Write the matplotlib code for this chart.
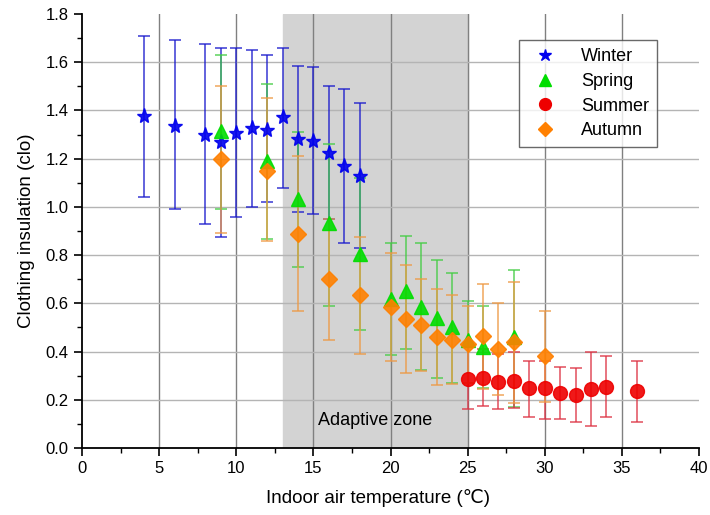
import matplotlib
matplotlib.use("Agg")
import matplotlib.pyplot as plt
from matplotlib.ticker import MultipleLocator

plt.rcParams["font.family"] = ["Liberation Sans", "DejaVu Sans"]

# Winter
winter_t = [4, 6, 8, 9, 10, 11, 12, 13, 14, 15, 16, 17, 18]
winter_clo = [1.375, 1.337, 1.30, 1.27, 1.305, 1.325, 1.32, 1.372, 1.28, 1.275, 1.223, 1.17, 1.126]
winter_lo = [1.04, 0.99, 0.93, 0.877, 0.957, 1.00, 1.02, 1.08, 0.98, 0.97, 0.95, 0.85, 0.83]
winter_hi = [1.71, 1.69, 1.676, 1.66, 1.66, 1.65, 1.63, 1.66, 1.585, 1.58, 1.50, 1.49, 1.43]

# Spring
spring_t = [9, 12, 14, 16, 18, 20, 21, 22, 23, 24, 25, 26, 28]
spring_clo = [1.315, 1.19, 1.033, 0.932, 0.805, 0.62, 0.65, 0.585, 0.54, 0.50, 0.45, 0.42, 0.46]
spring_lo = [0.99, 0.866, 0.75, 0.59, 0.49, 0.385, 0.41, 0.325, 0.29, 0.27, 0.27, 0.25, 0.17]
spring_hi = [1.63, 1.51, 1.31, 1.26, 1.12, 0.85, 0.88, 0.85, 0.78, 0.725, 0.61, 0.59, 0.74]

# Summer
summer_t = [25, 26, 27, 28, 29, 30, 31, 32, 33, 34, 36]
summer_clo = [0.285, 0.29, 0.275, 0.28, 0.25, 0.25, 0.23, 0.22, 0.245, 0.255, 0.235]
summer_lo = [0.16, 0.175, 0.16, 0.165, 0.13, 0.12, 0.12, 0.11, 0.09, 0.13, 0.11]
summer_hi = [0.42, 0.41, 0.39, 0.40, 0.36, 0.36, 0.335, 0.33, 0.40, 0.38, 0.36]

# Autumn
autumn_t = [9, 12, 14, 16, 18, 20, 21, 22, 23, 24, 25, 26, 27, 28, 30]
autumn_clo = [1.20, 1.15, 0.888, 0.70, 0.635, 0.585, 0.535, 0.51, 0.46, 0.45, 0.43, 0.465, 0.41, 0.44, 0.38]
autumn_lo = [0.89, 0.86, 0.57, 0.45, 0.39, 0.36, 0.31, 0.32, 0.26, 0.265, 0.27, 0.245, 0.22, 0.185, 0.19]
autumn_hi = [1.50, 1.45, 1.21, 0.95, 0.875, 0.81, 0.76, 0.70, 0.66, 0.635, 0.59, 0.68, 0.60, 0.69, 0.57]

series = [
    ("Winter", winter_t, winter_clo, winter_lo, winter_hi, "*", 11, "#0000ee", "#1a1acc"),
    ("Spring", spring_t, spring_clo, spring_lo, spring_hi, "^", 10, "#00dd00", "#44cc44"),
    ("Summer", summer_t, summer_clo, summer_lo, summer_hi, "o", 10, "#ee0000", "#dd3344"),
    ("Autumn", autumn_t, autumn_clo, autumn_lo, autumn_hi, "D", 8.5, "#ff8000", "#ee9944"),
]

fig = plt.figure(figsize=(7.1, 5.15), dpi=100)
ax = fig.add_axes([0.1155, 0.130, 0.869, 0.843])

ax.axvspan(13, 25, color="#d3d3d3", zorder=0)
ax.text(19, 0.115, "Adaptive zone", ha="center", va="center", fontsize=13, zorder=1)

for xv in range(5, 40, 5):
    ax.axvline(xv, color="#808080", lw=1.0, zorder=1)
for yv in [0.2, 0.4, 0.6, 0.8, 1.0, 1.2, 1.4, 1.6]:
    ax.axhline(yv, color="#b4b4b4", lw=1.0, zorder=1)

for name, t, clo, lo, hi, mk, ms, col, ecol in series:
    yerr = [[c - l for c, l in zip(clo, lo)], [h - c for c, h in zip(clo, hi)]]
    ax.errorbar(t, clo, yerr=yerr, fmt="none", ecolor=ecol, elinewidth=1.2,
                capsize=4, capthick=1.2, alpha=0.8, zorder=2)
    ax.plot(t, clo, ls="none", marker=mk, ms=ms, color=col, mec=col,
            alpha=0.9, label=name, zorder=3)

ax.set_xlim(0, 40)
ax.set_ylim(0, 1.8)
ax.xaxis.set_major_locator(MultipleLocator(5))
ax.xaxis.set_minor_locator(MultipleLocator(2.5))
ax.yaxis.set_major_locator(MultipleLocator(0.2))
ax.yaxis.set_minor_locator(MultipleLocator(0.1))
ax.set_xticklabels([f"{v:g}" for v in ax.get_xticks()])
ax.set_yticklabels([f"{v:.1f}" for v in ax.get_yticks()])
ax.tick_params(axis="both", which="major", direction="out", length=6, width=1.2, labelsize=12)
ax.tick_params(axis="both", which="minor", direction="out", length=3.5, width=1.0)
ax.spines["top"].set_visible(False)
ax.spines["right"].set_visible(False)
ax.spines["left"].set_linewidth(1.3)
ax.spines["bottom"].set_linewidth(1.3)

ax.set_xlabel("Indoor air temperature (\u2103)", fontsize=13.5, labelpad=10)
ax.xaxis.set_label_coords(0.48, -0.095)
ax.set_ylabel("Clothing insulation (clo)", fontsize=13.5, labelpad=8)

leg = ax.legend(loc="upper right", bbox_to_anchor=(0.947, 0.96), fontsize=13,
                frameon=True, fancybox=False, edgecolor="#444444",
                handletextpad=1.0, borderpad=0.45, labelspacing=0.42, markerscale=0.85)
leg.get_frame().set_linewidth(1.0)
for h in leg.legend_handles:
    h.set_alpha(1.0)

fig.savefig("out.png", dpi=100)
